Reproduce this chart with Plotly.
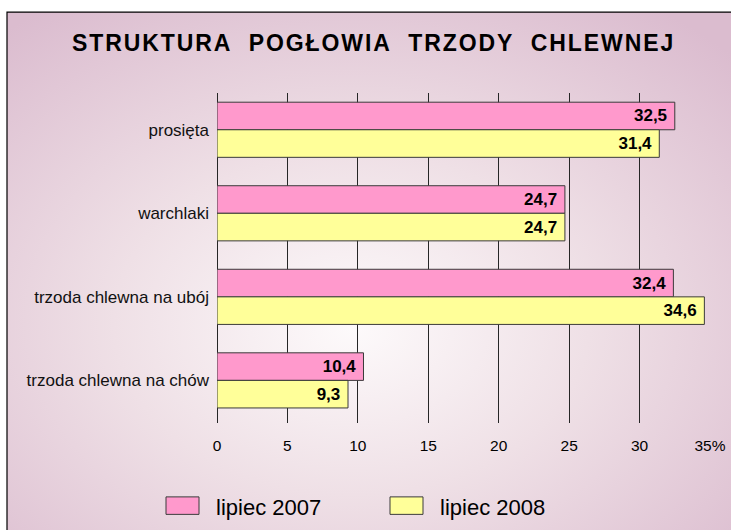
import base64
import plotly.graph_objects as go

# ---------------- data ----------------
categories = ["prosięta", "warchlaki", "trzoda chlewna na ubój", "trzoda chlewna na chów"]
series_names = ["lipiec 2007", "lipiec 2008"]
values_2007 = [32.5, 24.7, 32.4, 10.4]
values_2008 = [31.4, 24.7, 34.6, 9.3]
tick_values = [0, 5, 10, 15, 20, 25, 30, 35]
tick_labels = ["0", "5", "10", "15", "20", "25", "30", "35%"]
title_text = "STRUKTURA POGŁOWIA TRZODY CHLEWNEJ"

# ---------------- style ----------------
W, H = 731, 530
L, R, T, B = 217, 710, 93, 423.5
colors = ["#ff99cc", "#ffff99"]
FONT = "Liberation Sans, Arial, sans-serif"


def px_x(p):
    return (p - L) / (R - L)


def px_y(p):
    return (B - p) / (B - T)


def fmt(v):
    return f"{v:.1f}".replace(".", ",") + "\u00a0"


fig = go.Figure()
for name, vals, col in zip(series_names, [values_2007, values_2008], colors):
    fig.add_trace(go.Bar(
        y=categories, x=vals, orientation="h", name=name,
        marker=dict(color=col, line=dict(color="#3a3a3a", width=1)),
        text=[fmt(v) for v in vals], textposition="inside",
        insidetextanchor="end", textangle=0, constraintext="none",
        textfont=dict(family=FONT, size=17, color="black", weight="bold"),
        showlegend=False, cliponaxis=False,
    ))

# background gradient image (SVG data URI)
svg = (
    '<svg xmlns="http://www.w3.org/2000/svg" width="730" height="520" viewBox="0 0 730 520" preserveAspectRatio="none">'
    '<defs><radialGradient id="g" cx="0.47" cy="0.58" r="0.72" fx="0.47" fy="0.6">'
    '<stop offset="0" stop-color="#fdfafb"/>'
    '<stop offset="0.45" stop-color="#efe0e6"/>'
    '<stop offset="1" stop-color="#dbbccf"/>'
    '</radialGradient></defs>'
    '<rect width="730" height="520" fill="url(#g)"/></svg>'
)
src = "data:image/svg+xml;base64," + base64.b64encode(svg.encode()).decode()
fig.add_layout_image(dict(
    source=src, xref="paper", yref="paper",
    x=px_x(7), y=px_y(12), sizex=px_x(740) - px_x(7), sizey=px_y(12) - px_y(540),
    xanchor="left", yanchor="top", sizing="stretch", layer="below",
))

# frame
fig.add_shape(type="rect", xref="paper", yref="paper",
              x0=px_x(7), x1=px_x(745), y0=px_y(545), y1=px_y(12),
              line=dict(color="black", width=1.2), fillcolor="rgba(0,0,0,0)", layer="below")

# custom legend
leg_boxes = [(166, 199), (390, 423)]
leg_text_x = [214, 438]
for name, col, (bx0, bx1), tx in zip(series_names, colors, leg_boxes, leg_text_x):
    fig.add_shape(type="rect", xref="paper", yref="paper",
                  x0=px_x(bx0), x1=px_x(bx1), y0=px_y(515), y1=px_y(497.5),
                  fillcolor=col, line=dict(color="#3a3a3a", width=1))
    fig.add_annotation(text=name, xref="paper", yref="paper",
                       x=px_x(tx), y=px_y(508), xanchor="left", yanchor="middle",
                       showarrow=False, font=dict(family=FONT, size=22, color="black"))

fig.update_layout(
    width=W, height=H, autosize=False,
    margin=dict(l=L, r=W - R, t=T, b=H - B, pad=0, autoexpand=False),
    paper_bgcolor="white", plot_bgcolor="rgba(0,0,0,0)",
    barmode="group", bargap=0.34, bargroupgap=0,
    title=dict(
        text='<span style="letter-spacing:1.9px">' + title_text.replace(" ", "\u00a0 ") + "</span>",
        xref="container", yref="container", x=0.511, y=1 - 43 / H,
        xanchor="center", yanchor="middle",
        font=dict(family=FONT, size=23, color="black", weight="bold"),
    ),
    xaxis=dict(
        range=[0, 35], tickvals=tick_values, ticktext=tick_labels,
        showgrid=True, gridcolor="#262626", gridwidth=1,
        zeroline=True, zerolinecolor="#262626", zerolinewidth=1,
        showline=False, ticks="", ticklabelstandoff=11, automargin=False,
        tickfont=dict(family=FONT, size=15.5, color="black"),
        fixedrange=True,
    ),
    yaxis=dict(
        type="category", range=[3.51, -0.44],
        showgrid=False, zeroline=False, showline=False, ticks="",
        ticklabelstandoff=7, automargin=False,
        tickfont=dict(family=FONT, size=17, color="#111"),
        fixedrange=True,
    ),
    showlegend=False,
)

fig.write_html(
    "out.html",
    config={"displayModeBar": False, "responsive": False},
    post_script="document.body.style.margin='0';document.body.style.overflow='hidden';",
)
